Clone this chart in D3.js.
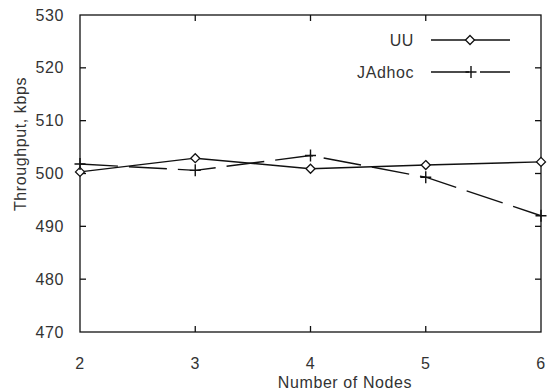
<!DOCTYPE html>
<html>
<head>
<meta charset="utf-8">
<script src="https://cdn.jsdelivr.net/npm/d3@7"></script>
<style>
  html, body { margin: 0; padding: 0; background: #fff; }
  svg text { font-family: "Liberation Sans", Arial, sans-serif; fill: #333; letter-spacing: 0.6px; }
</style>
</head>
<body>
<script>
// Throughput versus number of nodes for two AODV implementations
const nodes = [2, 3, 4, 5, 6];
const uuThroughput = [500.3, 502.9, 500.9, 501.6, 502.2];
const jadhocThroughput = [501.8, 500.6, 503.4, 499.3, 492.0];
const yTicks = [470, 480, 490, 500, 510, 520, 530];
const seriesNames = ["UU", "JAdhoc"];

const W = 550, H = 390;
const m = { left: 80, right: 9, top: 15, bottom: 58 };

const svg = d3.select("body").append("svg").attr("width", W).attr("height", H);

const x = d3.scaleLinear().domain([2, 6]).range([m.left, W - m.right]);
const y = d3.scaleLinear().domain([470, 530]).range([H - m.bottom, m.top]);

const fs = "16px";

// frame
svg.append("rect")
  .attr("x", x(2)).attr("y", y(530))
  .attr("width", x(6) - x(2)).attr("height", y(470) - y(530))
  .attr("fill", "none").attr("stroke", "#111").attr("stroke-width", 1.3);

// inward ticks on all four sides
const tl = 6;
const ax = svg.append("g").attr("stroke", "#111").attr("stroke-width", 1.3);
yTicks.slice(1, -1).forEach(v => {
  ax.append("line").attr("x1", x(2)).attr("x2", x(2) + tl).attr("y1", y(v)).attr("y2", y(v));
  ax.append("line").attr("x1", x(6)).attr("x2", x(6) - tl).attr("y1", y(v)).attr("y2", y(v));
});
nodes.slice(1, -1).forEach(v => {
  ax.append("line").attr("x1", x(v)).attr("x2", x(v)).attr("y1", y(470)).attr("y2", y(470) - tl);
  ax.append("line").attr("x1", x(v)).attr("x2", x(v)).attr("y1", y(530)).attr("y2", y(530) + tl);
});

// tick labels
svg.append("g").selectAll("text").data(yTicks).join("text")
  .attr("x", 64).attr("y", d => y(d)).attr("dy", "0.35em")
  .attr("text-anchor", "end").style("font-size", fs).text(d => d);
svg.append("g").selectAll("text").data(nodes).join("text")
  .attr("x", d => x(d)).attr("y", 363).attr("dy", "0.35em")
  .attr("text-anchor", "middle").style("font-size", fs).text(d => d);

// axis titles
svg.append("text").attr("x", 345).attr("y", 388)
  .attr("text-anchor", "middle").style("font-size", fs).text("Number of Nodes");
svg.append("text").attr("transform", "translate(20,144) rotate(-90)")
  .attr("dy", "0.35em").attr("text-anchor", "middle").style("font-size", fs)
  .text("Throughput, kbps");

const line = d3.line().x(d => x(d[0])).y(d => y(d[1]));
const uu = nodes.map((n, i) => [n, uuThroughput[i]]);
const ja = nodes.map((n, i) => [n, jadhocThroughput[i]]);

const dash = "38,11";

svg.append("path").datum(uu).attr("d", line)
  .attr("fill", "none").attr("stroke", "#111").attr("stroke-width", 1.4);
svg.append("path").datum(ja).attr("d", line)
  .attr("fill", "none").attr("stroke", "#111").attr("stroke-width", 1.4)
  .attr("stroke-dasharray", dash);

const diamond = (g, cx, cy) => g.append("path")
  .attr("d", `M${cx},${cy - 4.5}L${cx + 4.5},${cy}L${cx},${cy + 4.5}L${cx - 4.5},${cy}Z`)
  .attr("fill", "#fff").attr("stroke", "#111").attr("stroke-width", 1.3);
const plus = (g, cx, cy) => g.append("path")
  .attr("d", `M${cx - 5.5},${cy}H${cx + 5.5}M${cx},${cy - 6}V${cy + 6}`)
  .attr("stroke", "#111").attr("stroke-width", 1.4);

const mk = svg.append("g");
uu.forEach(d => diamond(mk, x(d[0]), y(d[1])));
ja.forEach(d => plus(mk, x(d[0]), y(d[1])));

// legend
const lg = svg.append("g");
const rows = [40, 72];
seriesNames.forEach((name, i) => {
  lg.append("text").attr("x", 414).attr("y", rows[i]).attr("dy", "0.35em")
    .attr("text-anchor", "end").style("font-size", fs).text(name);
  const l = lg.append("line").attr("x1", 431).attr("x2", 510)
    .attr("y1", rows[i]).attr("y2", rows[i])
    .attr("stroke", "#111").attr("stroke-width", 1.4);
  if (i === 1) l.attr("stroke-dasharray", dash);
  if (i === 0) diamond(lg, 470, rows[i]); else plus(lg, 471, rows[i]);
});
</script>
</body>
</html>
